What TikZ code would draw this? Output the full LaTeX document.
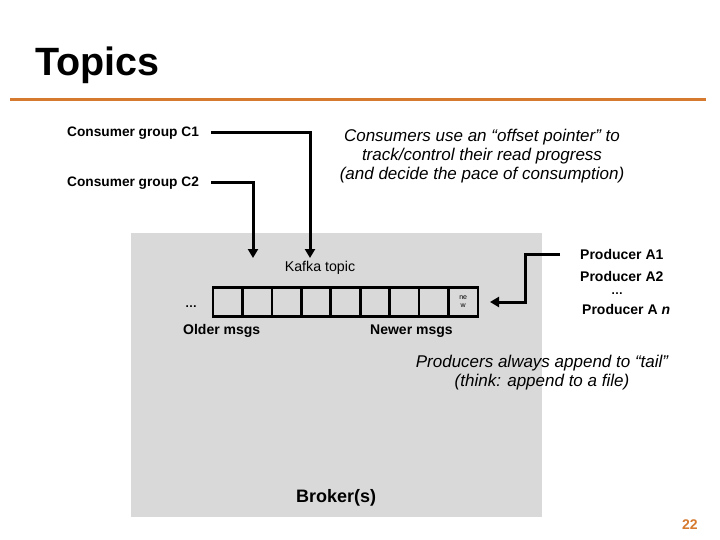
\documentclass[tikz,border=0pt]{standalone}
\usepackage{fontspec}
\setmainfont{Liberation Sans}
\usetikzlibrary{arrows.meta}
\definecolor{bg}{RGB}{217,217,217}
\definecolor{accent}{RGB}{214,122,48}
\begin{document}
\begin{tikzpicture}[x=1pt,y=-1pt,
 lbl/.style={inner sep=0pt, anchor=west, font=\bfseries\fontsize{13.7}{16}\selectfont},
 plain/.style={inner sep=0pt, font=\fontsize{14.2}{16}\selectfont},
 note/.style={inner sep=0pt, align=center, font=\itshape\fontsize{17}{19}\selectfont},
 conn/.style={line width=3pt, -{Triangle[width=10pt,length=9pt]}},
 cell/.style={draw, line width=2.6pt, minimum width=29.4pt, minimum height=28.5pt, inner sep=0pt, anchor=center}]
\useasboundingbox (0,0) rectangle (720,540);
\fill[white] (0,0) rectangle (720,540);
\node[anchor=base west, inner sep=0pt, font=\bfseries\fontsize{39.5}{42}\selectfont] (title) at (35,76) {Topics};
\draw[accent, line width=3pt] (10,100) -- (706,100);
\node[fill=bg, minimum width=411pt, minimum height=284pt, anchor=north west, inner sep=0pt] (broker) at (131,233) {};

\node[lbl] (c1) at (67,133) {Consumer group C1};
\node[lbl] (c2) at (67,183) {Consumer group C2};
\coordinate (c1end) at (310,258);
\coordinate (c2end) at (253,258);
\draw[conn] ([xshift=12pt]c1.east) -| (c1end);
\draw[conn] ([xshift=12pt]c2.east) -| (c2end);

\node[note] (cnote) at (482,156) {Consumers use an “offset pointer” to\\track/control their read progress\\(and decide the pace of consumption)};

\node[plain] (kt) at (320,268) {Kafka topic};
\foreach \i in {1,...,9} \node[cell] (q\i) at ({213+29.44*(\i-0.5)},302) {};
\node[inner sep=0pt, align=center, font=\fontsize{7}{8}\selectfont] (new) at (q9) {ne\\w};
\node[inner sep=0pt, anchor=base, font=\bfseries\fontsize{12}{14}\selectfont] (dots) at (191,307) {…};
\node[lbl, font=\bfseries\fontsize{14}{16}\selectfont] (older) at (183,331) {Older msgs};
\node[lbl, font=\bfseries\fontsize{14}{16}\selectfont] (newer) at (370,331) {Newer msgs};

\node[lbl, font=\bfseries\fontsize{14}{16}\selectfont] (pa1) at (580,254) {Producer A1};
\node[lbl, font=\bfseries\fontsize{14}{16}\selectfont] (pa2) at (580,276) {Producer A2};
\node[inner sep=0pt, anchor=base, font=\bfseries\fontsize{12}{14}\selectfont] (pdots) at (617,294) {…};
\node[lbl, font=\bfseries\fontsize{14}{16}\selectfont] (pan) at (582,309) {Producer A \textit{n}};
\coordinate (pend) at (490,302);
\draw[conn] ([xshift=-20pt]pa1.west) -| ([xshift=35pt]pend) -- (pend);

\node[note] (pnote) at (542,373) {Producers always append to “tail”\\(think: append to a file)};

\node[lbl, font=\bfseries\fontsize{18}{20}\selectfont] (brk) at (296,498) {Broker(s)};
\node[lbl, font=\bfseries\fontsize{14}{16}\selectfont, text=accent] (pg) at (682,525) {22};
\end{tikzpicture}
\end{document}
